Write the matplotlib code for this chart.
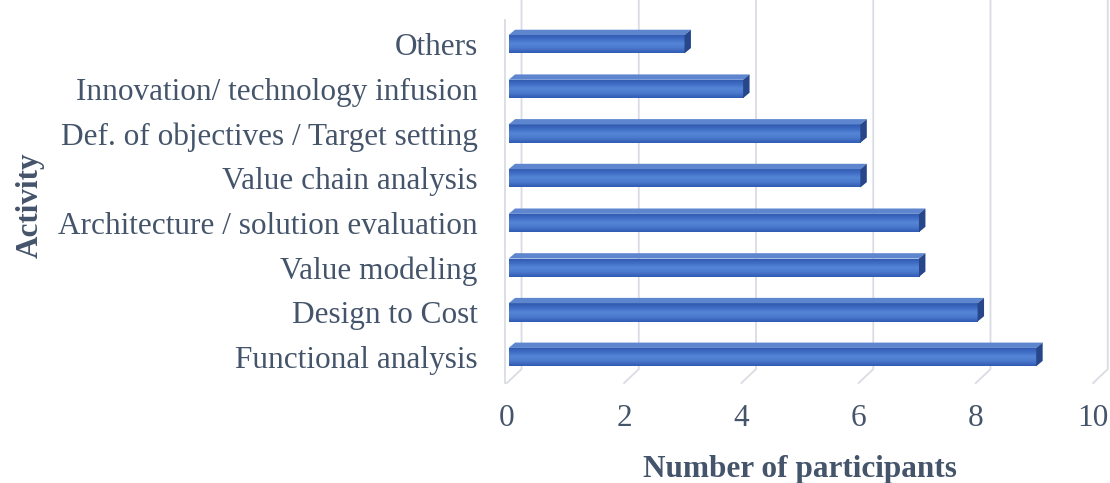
import numpy as np
import matplotlib
matplotlib.use("Agg")
import matplotlib.pyplot as plt
from matplotlib.patches import Polygon
from matplotlib.colors import LinearSegmentedColormap

categories = ["Functional analysis", "Design to Cost", "Value modeling",
              "Architecture / solution evaluation", "Value chain analysis",
              "Def. of objectives / Target setting", "Innovation/ technology infusion",
              "Others"]
values = [9, 8, 7, 7, 6, 6, 4, 3]
xticks = [0, 2, 4, 6, 8, 10]

plt.rcParams['font.family'] = ['Liberation Serif', 'DejaVu Serif']
txt_col = "#44546A"
grid_col = "#D9DCE3"

fig = plt.figure(figsize=(11.1, 4.83), dpi=100)
ax = fig.add_axes([0.454, 0.207, 0.5334, 0.793])
ax.set_xlim(-0.05, 10.05)
ax.set_ylim(-0.58, 7.99)

# 3D wall / floor grid
Dx, Dy = 0.25, 0.31
floor_front = -0.58
floor_back = floor_front + Dy
for v in xticks:
    ax.plot([v + Dx, v + Dx, v], [8.2, floor_back, floor_front], color=grid_col,
            lw=1.3, clip_on=False, zorder=0)
ax.plot([-0.04, -0.04], [7.55, floor_front], color=grid_col, lw=1.3, clip_on=False, zorder=0)

# bars with 3D look
h = 0.41
dx, dy = 0.11, 0.12
cmap = LinearSegmentedColormap.from_list("b", ["#2E58AC", "#3F6CC4", "#5586D6", "#4A78CC", "#2F5BB2"])
grad = np.linspace(0, 1, 64).reshape(-1, 1)
y = np.arange(len(categories))
for yi, v in zip(y, values):
    x0 = 0.03
    bars = ax.barh(yi, v, left=x0, height=h, color="#4472C4", zorder=3)
    im = ax.imshow(grad, extent=[x0, x0 + v, yi - h / 2, yi + h / 2], cmap=cmap,
                   aspect='auto', zorder=3.5, origin='upper')
    im.set_clip_path(bars[0])
    top = Polygon([(x0, yi + h / 2), (x0 + v, yi + h / 2), (x0 + v + dx, yi + h / 2 + dy),
                   (x0 + dx, yi + h / 2 + dy)], closed=True, facecolor="#5E86CF",
                  edgecolor="none", zorder=4)
    end = Polygon([(x0 + v, yi - h / 2), (x0 + v, yi + h / 2), (x0 + v + dx, yi + h / 2 + dy),
                   (x0 + v + dx, yi - h / 2 + dy)], closed=True, facecolor="#27478A",
                  edgecolor="none", zorder=4)
    ax.add_patch(top)
    ax.add_patch(end)

fs = 22.5
ax.set_yticks(y)
ax.set_yticklabels(categories, fontsize=fs, color=txt_col)
ax.set_xticks(xticks)
ax.set_xticklabels([str(t) for t in xticks], fontsize=fs, color=txt_col)
ax.tick_params(axis='y', length=0, pad=19)
ax.tick_params(axis='x', length=0, pad=15)
for s in ax.spines.values():
    s.set_visible(False)
ax.set_xlabel("Number of participants", fontsize=fs, fontweight='bold', color=txt_col, labelpad=16)
fig.text(0.027, 0.575, "Activity", rotation=90, fontsize=fs, fontweight='bold',
         color=txt_col, ha='center', va='center')

fig.savefig("out.png", dpi=100)
